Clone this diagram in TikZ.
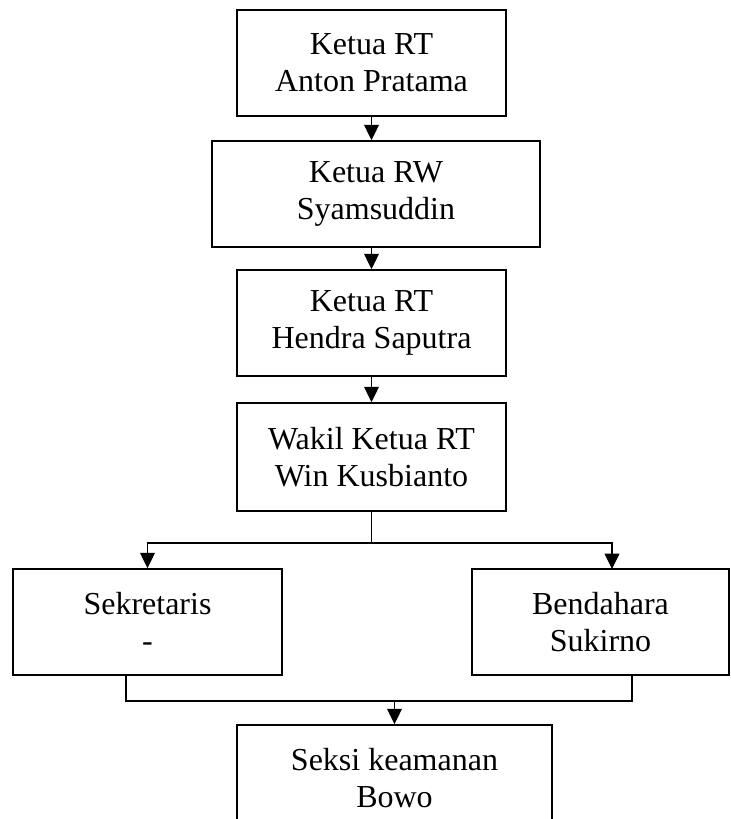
\documentclass[tikz,border=0pt]{standalone}
\usepackage{fontspec}
\setmainfont{Liberation Serif}
\usepackage{tikz}
\usetikzlibrary{arrows.meta}
\tikzset{
    jabatan/.style={draw, line width=1.2pt, align=center, inner sep=0pt,
        minimum height=79.5pt, font=\fontsize{24}{27.5}\selectfont},
    panah/.style={line width=1.1pt, -{Triangle[length=11.5pt,width=11pt]}},
    garis/.style={line width=1.1pt}
}
\begin{document}
\begin{tikzpicture}[x=0.75pt, y=-0.75pt]
            \useasboundingbox (0,0) rectangle (731,819);
            \clip (0,0) rectangle (731,819);

            % ---------- chain of heads ----------
            \node[jabatan, minimum width=201.75pt] (ketuart) at (371.5,63) {Ketua RT\\Anton Pratama};
            \node[jabatan, minimum width=246pt] (ketuarw) at (376,194) {Ketua RW\\Syamsuddin};
            \node[jabatan, minimum width=201.75pt] (rt) at (371.5,323) {Ketua RT\\Hendra Saputra};
            \node[jabatan, minimum width=201.75pt, minimum height=81pt] (wakil) at (371.5,457) {Wakil Ketua RT\\Win Kusbianto};

            \draw[panah] (ketuart.south) -- (ketuart.south |- ketuarw.north);
            \draw[panah] (rt.north |- ketuarw.south) -- (rt.north);
            \draw[panah] (rt.south) -- (wakil.north);

            % ---------- second row ----------
            \node[jabatan, minimum width=201.75pt] (sekretaris) at (147.5,622) {Sekretaris\\-};
            \node[jabatan, minimum width=192.75pt] (bendahara) at (600.5,622) {Bendahara\\Sukirno};

            \coordinate (cabang) at (371.5,543);
            \coordinate (masukbend) at (612,569);
            \draw[garis] (wakil.south) -- (cabang);
            \draw[panah] (cabang) -| (sekretaris.north);
            \draw[panah] (cabang) -| (masukbend);

            % ---------- bottom ----------
            \node[jabatan, minimum width=236.25pt] (keamanan) at (394.5,778) {Seksi keamanan\\Bowo};

            \coordinate (keluarsekre) at (126,675);
            \coordinate (keluarbend) at (632,675);
            \coordinate (gabung) at (394.5,701);
            \draw[garis] (keluarsekre) |- (gabung);
            \draw[garis] (keluarbend) |- (gabung);
            \draw[panah] (gabung) -- (keamanan.north);
        \end{tikzpicture}
\end{document}
